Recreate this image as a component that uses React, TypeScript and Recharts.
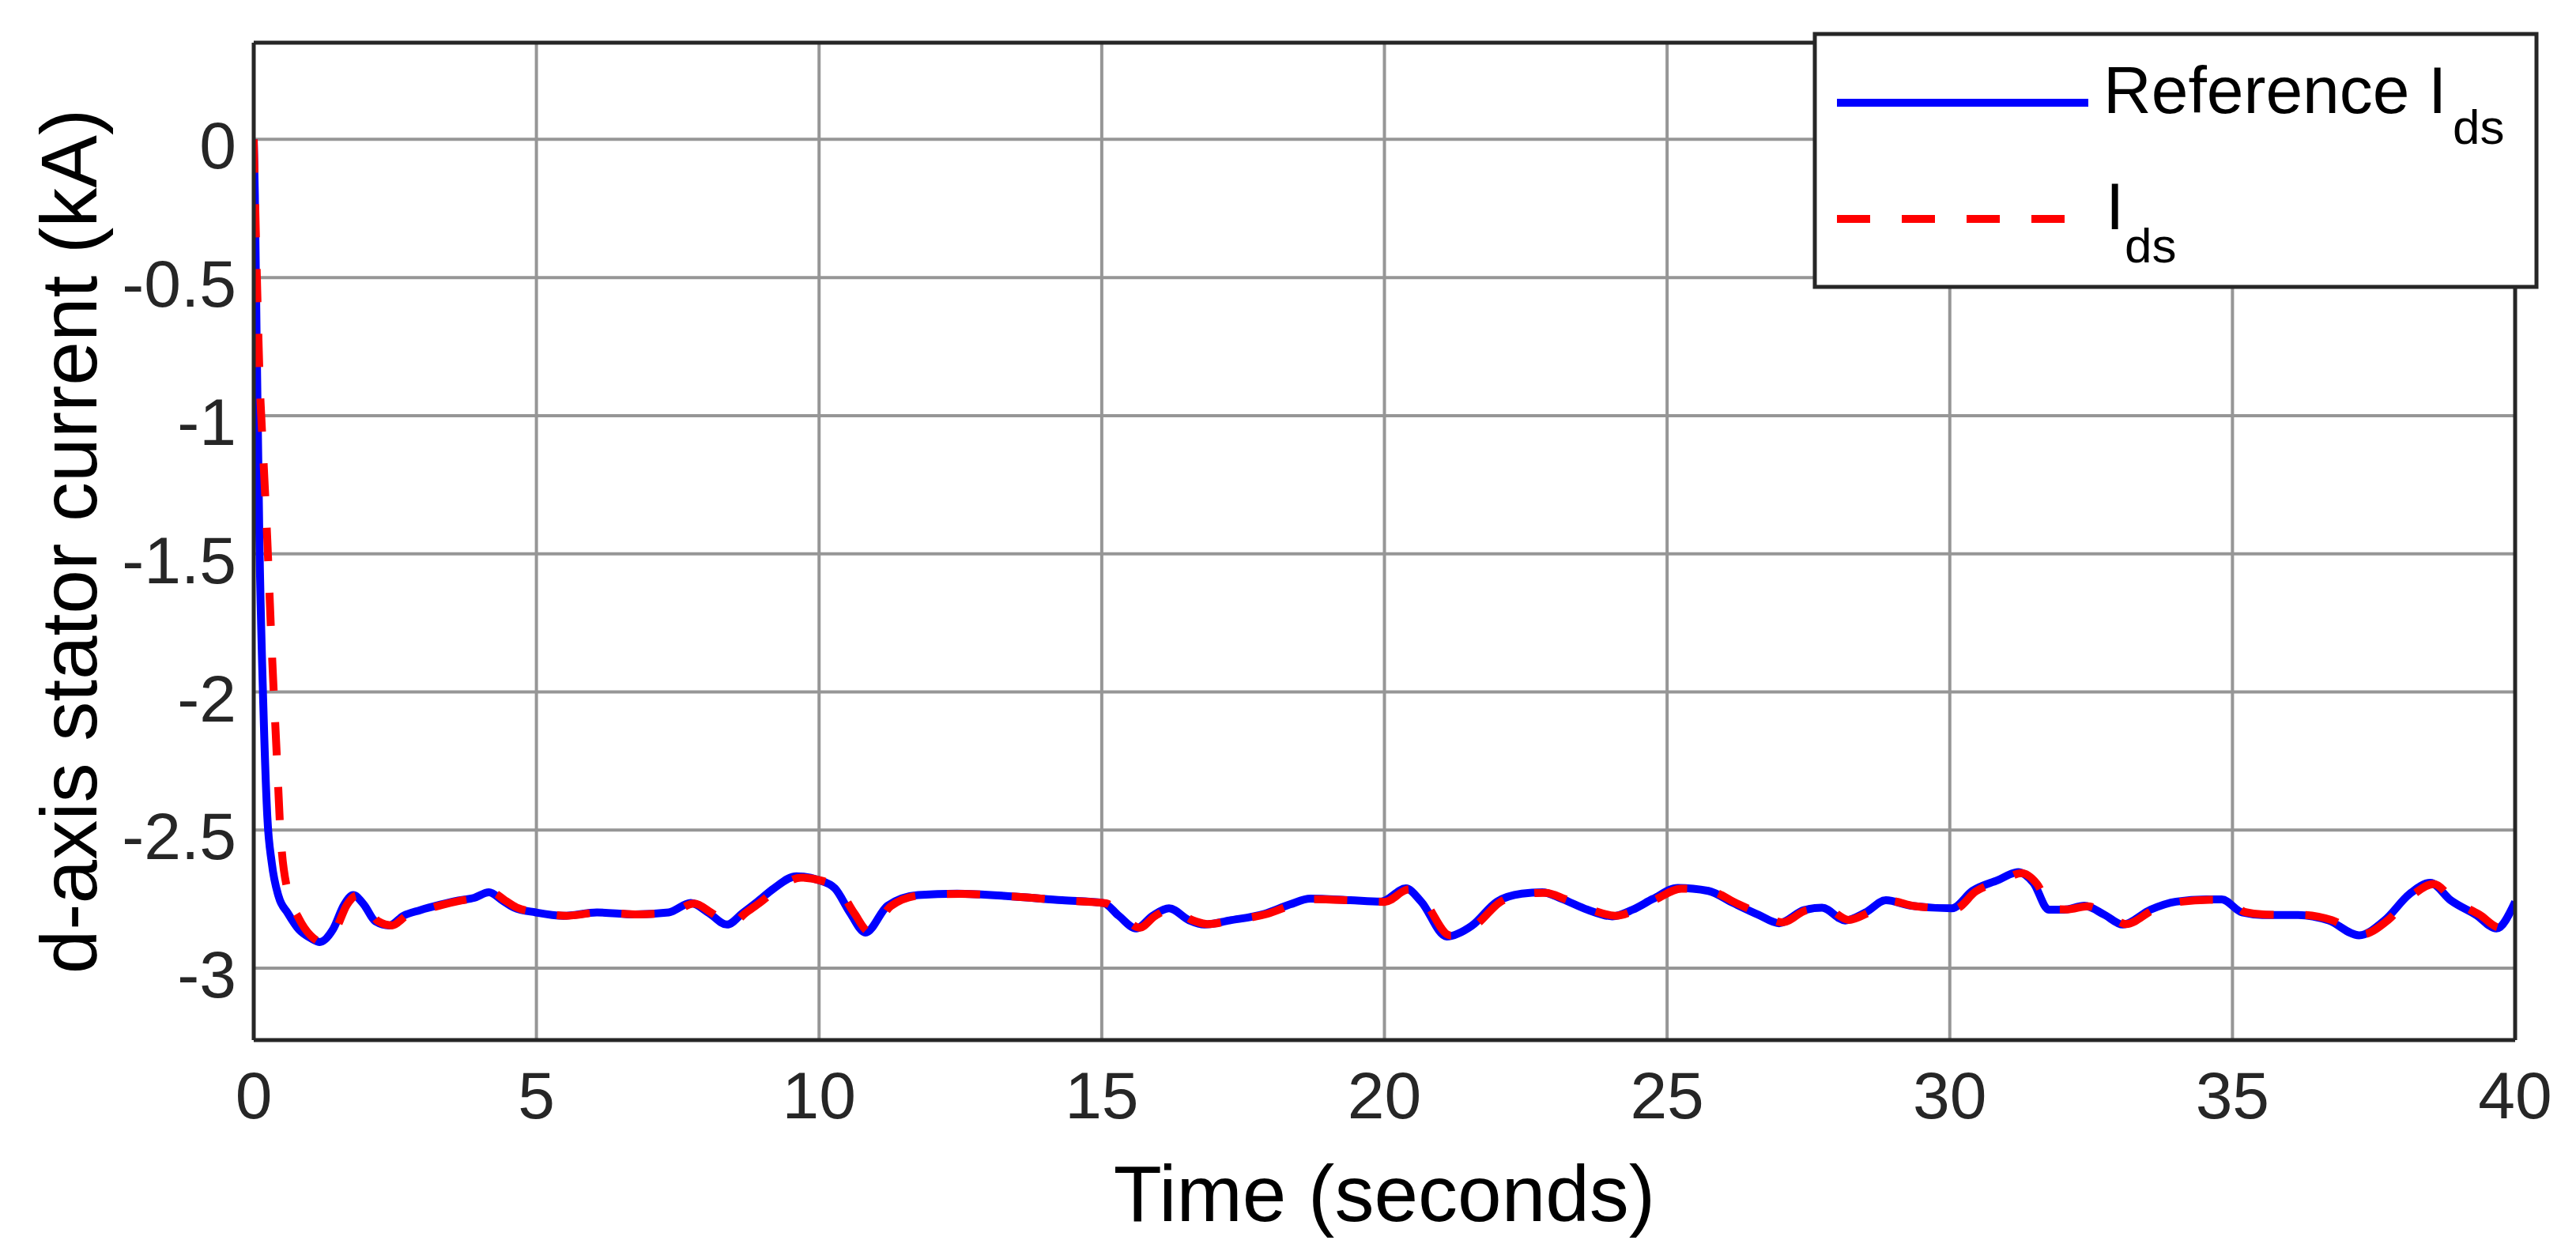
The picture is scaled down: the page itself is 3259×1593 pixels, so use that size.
import React from 'react';
import { LineChart, Line, XAxis, YAxis, CartesianGrid } from 'recharts';

const CHART_W = 3259;
const CHART_H = 1593;
const FONT = '"Liberation Sans", Arial, Helvetica, sans-serif';

const xTicks = [0, 5, 10, 15, 20, 25, 30, 35, 40];
const yTicks = [0, -0.5, -1, -1.5, -2, -2.5, -3];
const xDomain: [number, number] = [0, 40];
const yDomain: [number, number] = [-3.26, 0.35];

const xLabel = 'Time (seconds)';
const yLabel = 'd-axis stator current (kA)';
const refName = 'Reference I';
const measName = 'I';
const subscript = 'ds';

// Reference I_ds (blue, solid)
const refTime = [
  0, 0.02, 0.05, 0.1, 0.17, 0.24, 0.32, 0.44, 0.6, 0.8, 1.0, 1.17, 1.4, 1.6, 1.76, 1.95, 2.15, 2.4, 2.65, 2.94,
  3.3, 3.62, 3.9, 4.16, 4.4, 4.6, 4.99, 5.48, 6.07, 6.75, 7.34, 7.73, 8.05, 8.37, 8.65, 8.91, 9.2, 9.6, 9.99, 10.28,
  10.55, 10.82, 11.21, 11.75, 12.44, 13.42, 14.3, 15.03, 15.3, 15.61, 15.9, 16.19, 16.55, 16.81, 17.26, 17.88, 18.33, 18.69, 19.4, 19.94,
  20.38, 20.65, 21.1, 21.54, 21.99, 22.43, 22.79, 23.14, 23.59, 24.03, 24.39, 24.75, 25.19, 25.73, 26.17, 26.62, 26.98, 27.42, 27.74, 28.15,
  28.51, 28.87, 29.32, 30.04, 30.4, 30.85, 31.21, 31.48, 31.75, 32.02, 32.38, 32.74, 33.06, 33.55, 34.0, 34.54, 34.81, 35.17, 35.53, 36.16,
  36.7, 37.24, 37.69, 38.14, 38.5, 38.86, 39.31, 39.67, 40.0,
];
const refIds = [
  0, -0.2, -0.7, -1.45, -2.05, -2.45, -2.62, -2.74, -2.8, -2.86, -2.89, -2.905, -2.86, -2.77, -2.735, -2.77, -2.83, -2.845, -2.81, -2.79,
  -2.77, -2.755, -2.745, -2.725, -2.755, -2.78, -2.798, -2.81, -2.798, -2.805, -2.798, -2.764, -2.8, -2.842, -2.8, -2.759, -2.711, -2.667, -2.681, -2.711,
  -2.8, -2.871, -2.774, -2.735, -2.73, -2.74, -2.754, -2.764, -2.81, -2.856, -2.81, -2.783, -2.827, -2.842, -2.827, -2.803, -2.769, -2.748, -2.754, -2.759,
  -2.711, -2.759, -2.885, -2.847, -2.759, -2.73, -2.725, -2.749, -2.788, -2.812, -2.788, -2.749, -2.709, -2.72, -2.764, -2.807, -2.837, -2.79, -2.781, -2.827,
  -2.798, -2.754, -2.774, -2.783, -2.72, -2.681, -2.652, -2.691, -2.788, -2.788, -2.774, -2.807, -2.842, -2.788, -2.759, -2.751, -2.751, -2.798, -2.807, -2.807,
  -2.827, -2.881, -2.827, -2.73, -2.691, -2.754, -2.807, -2.856, -2.76,
];

// Measured I_ds (red, dashed)
const measTime = [
  0, 0.05, 0.1, 0.17, 0.24, 0.32, 0.41, 0.47, 0.6, 0.8, 1.0, 1.2, 1.45, 1.65, 1.82, 2.0, 2.2, 2.45, 2.7, 3.0,
  3.35, 3.67, 3.95, 4.22, 4.45, 4.65, 5.04, 5.53, 6.12, 6.8, 7.39, 7.79, 8.1, 8.43, 8.7, 8.97, 9.26, 9.68, 10.06, 10.35,
  10.62, 10.89, 11.27, 11.8, 12.5, 13.47, 14.35, 15.08, 15.36, 15.67, 15.95, 16.24, 16.6, 16.87, 17.32, 17.93, 18.38, 18.75, 19.45, 20.0,
  20.44, 20.71, 21.16, 21.6, 22.05, 22.49, 22.85, 23.2, 23.65, 24.09, 24.45, 24.81, 25.25, 25.79, 26.23, 26.68, 27.04, 27.47, 27.8, 28.21,
  28.57, 28.93, 29.38, 30.1, 30.46, 30.91, 31.27, 31.54, 31.81, 32.08, 32.44, 32.8, 33.12, 33.61, 34.06, 34.6, 34.87, 35.23, 35.59, 36.22,
  36.76, 37.3, 37.75, 38.2, 38.56, 38.92, 39.37, 39.73, 40.0,
];
const measIds = [
  0, -0.45, -0.84, -1.15, -1.45, -1.85, -2.24, -2.5, -2.72, -2.82, -2.88, -2.905, -2.86, -2.77, -2.737, -2.772, -2.83, -2.845, -2.81, -2.79,
  -2.77, -2.755, -2.745, -2.727, -2.755, -2.78, -2.798, -2.81, -2.798, -2.805, -2.798, -2.766, -2.8, -2.842, -2.8, -2.76, -2.713, -2.672, -2.684, -2.714,
  -2.8, -2.868, -2.775, -2.736, -2.731, -2.741, -2.755, -2.765, -2.81, -2.853, -2.81, -2.785, -2.826, -2.84, -2.826, -2.803, -2.77, -2.75, -2.755, -2.76,
  -2.714, -2.76, -2.881, -2.846, -2.76, -2.731, -2.727, -2.75, -2.788, -2.81, -2.788, -2.75, -2.712, -2.722, -2.765, -2.806, -2.834, -2.79, -2.783, -2.825,
  -2.798, -2.756, -2.775, -2.784, -2.722, -2.684, -2.656, -2.694, -2.786, -2.787, -2.776, -2.806, -2.84, -2.788, -2.76, -2.752, -2.752, -2.797, -2.806, -2.807,
  -2.826, -2.877, -2.826, -2.733, -2.695, -2.755, -2.806, -2.853, -2.78,
];

const refData = refTime.map((t, i) => ({ t, v: refIds[i] }));
const measData = measTime.map((t, i) => ({ t, v: measIds[i] }));

const FRAME = '#262626';
const GRID = '#969696';
const BLUE = '#0000ff';
const RED = '#ff0000';
const DASH = '42 40';
const LINE_W = 10;
const TICK_FONT = 84;

const YTick = (props: any) => (
  <text
    x={props.x}
    y={props.y + 37}
    textAnchor="end"
    fontSize={TICK_FONT}
    fontFamily={FONT}
    fill={FRAME}
  >
    {String(props.payload.value)}
  </text>
);

const XTick = (props: any) => (
  <text
    x={props.x}
    y={props.y + 57}
    textAnchor="middle"
    fontSize={TICK_FONT}
    fontFamily={FONT}
    fill={FRAME}
  >
    {String(props.payload.value)}
  </text>
);

const YLabel = (props: any) => {
  const vb = props.viewBox || { x: 0, y: 54, width: 321, height: 1262 };
  const cx = vb.x + 122;
  const cy = vb.y + vb.height / 2;
  return (
    <text
      x={cx}
      y={cy}
      transform={`rotate(-90, ${cx}, ${cy})`}
      textAnchor="middle"
      fontSize={100}
      fontFamily={FONT}
      fill="#000"
    >
      {yLabel}
    </text>
  );
};

const XLabel = (props: any) => {
  const vb = props.viewBox || { x: 321, y: 1316, width: 2861, height: 277 };
  const cx = vb.x + vb.width / 2;
  return (
    <text x={cx} y={vb.y + 229} textAnchor="middle" fontSize={100} fontFamily={FONT} fill="#000">
      {xLabel}
    </text>
  );
};

const LegendBox = () => (
  <svg
    width={CHART_W}
    height={CHART_H}
    style={{ position: 'absolute', left: 0, top: 0, pointerEvents: 'none' }}
  >
    <rect x={2296} y={43} width={913} height={320} fill="#ffffff" stroke={FRAME} strokeWidth={5} />
    <line x1={2324} y1={130} x2={2642} y2={130} stroke={BLUE} strokeWidth={LINE_W} />
    <text x={2661} y={143} fontSize={84} fontFamily={FONT} fill="#000">
      {refName}
    </text>
    <text x={3103} y={182} fontSize={62} fontFamily={FONT} fill="#000">
      {subscript}
    </text>
    <line x1={2324} y1={277} x2={2640} y2={277} stroke={RED} strokeWidth={LINE_W} strokeDasharray={DASH} />
    <text x={2664} y={290} fontSize={84} fontFamily={FONT} fill="#000">
      {measName}
    </text>
    <text x={2688} y={332} fontSize={62} fontFamily={FONT} fill="#000">
      {subscript}
    </text>
  </svg>
);

export default function App() {
  return (
    <div style={{ position: 'absolute', left: 0, top: 0, width: CHART_W, height: CHART_H, background: '#fff' }}>
      <LineChart width={CHART_W} height={CHART_H} margin={{ top: 54, right: 77, left: 0, bottom: 0 }}>
        <CartesianGrid
          xAxisId="main"
          yAxisId="main"
          stroke={GRID}
          strokeWidth={4}
          horizontalValues={yTicks}
          verticalValues={xTicks}
        />
        <XAxis
          xAxisId="main"
          dataKey="t"
          type="number"
          domain={xDomain}
          ticks={xTicks}
          allowDataOverflow
          height={277}
          tickLine={false}
          tickSize={0}
          tickMargin={42}
          axisLine={{ stroke: FRAME, strokeWidth: 5 }}
          tick={<XTick />}
          label={<XLabel />}
        />
        <XAxis
          xAxisId="bottomTicks"
          dataKey="t"
          type="number"
          domain={xDomain}
          ticks={xTicks}
          allowDataOverflow
          orientation="bottom"
          mirror
          tick={false}
          tickSize={30}
          tickLine={{ stroke: FRAME, strokeWidth: 5 }}
          axisLine={false}
        />
        <XAxis
          xAxisId="top"
          dataKey="t"
          type="number"
          domain={xDomain}
          ticks={xTicks}
          allowDataOverflow
          orientation="top"
          mirror
          tick={false}
          tickSize={30}
          tickLine={{ stroke: FRAME, strokeWidth: 5 }}
          axisLine={{ stroke: FRAME, strokeWidth: 5 }}
        />
        <YAxis
          yAxisId="main"
          type="number"
          domain={yDomain}
          ticks={yTicks}
          allowDataOverflow
          width={321}
          tickLine={false}
          tickSize={0}
          tickMargin={22}
          axisLine={{ stroke: FRAME, strokeWidth: 5 }}
          tick={<YTick />}
          label={<YLabel />}
        />
        <YAxis
          yAxisId="leftTicks"
          type="number"
          domain={yDomain}
          ticks={yTicks}
          allowDataOverflow
          orientation="left"
          mirror
          tick={false}
          tickSize={30}
          tickLine={{ stroke: FRAME, strokeWidth: 5 }}
          axisLine={false}
        />
        <YAxis
          yAxisId="right"
          type="number"
          domain={yDomain}
          ticks={yTicks}
          allowDataOverflow
          orientation="right"
          mirror
          tick={false}
          tickSize={30}
          tickLine={{ stroke: FRAME, strokeWidth: 5 }}
          axisLine={{ stroke: FRAME, strokeWidth: 5 }}
        />
        <Line
          xAxisId="main"
          yAxisId="main"
          data={refData}
          dataKey="v"
          type="monotone"
          stroke={BLUE}
          strokeWidth={LINE_W}
          dot={false}
          isAnimationActive={false}
        />
        <Line
          xAxisId="main"
          yAxisId="main"
          data={measData}
          dataKey="v"
          type="monotone"
          stroke={RED}
          strokeWidth={LINE_W}
          strokeDasharray={DASH}
          dot={false}
          isAnimationActive={false}
        />
      </LineChart>
      <LegendBox />
    </div>
  );
}
